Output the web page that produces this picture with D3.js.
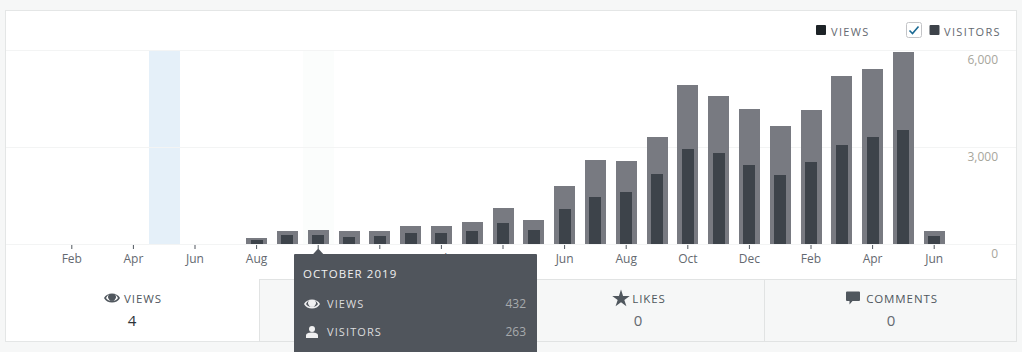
<!DOCTYPE html>
<html lang="en">
<head>
    <meta charset="UTF-8">
    <title>Stats</title>
    <script src="https://d3js.org/d3.v7.min.js"></script>
    <style>
        html, body {
            margin: 0;
            padding: 0;
            background-color: #f6f7f7;
            overflow: hidden;
        }

        svg {
            display: block;
            font-family: 'Open Sans', sans-serif;
        }
    </style>
</head>
<body>
<svg id="chart" width="1022" height="352"></svg>

<script>
    const months = ['Jan 2019', 'Feb 2019', 'Mar 2019', 'Apr 2019', 'May 2019', 'Jun 2019', 'Jul 2019', 'Aug 2019',
        'Sep 2019', 'Oct 2019', 'Nov 2019', 'Dec 2019', 'Jan 2020', 'Feb 2020', 'Mar 2020', 'Apr 2020', 'May 2020',
        'Jun 2020', 'Jul 2020', 'Aug 2020', 'Sep 2020', 'Oct 2020', 'Nov 2020', 'Dec 2020', 'Jan 2021', 'Feb 2021',
        'Mar 2021', 'Apr 2021', 'May 2021', 'Jun 2021'];
    const views = [0, 0, 0, 0, 4, 0, 0, 186, 402, 432, 400, 400, 546, 546, 670, 1113, 752, 1804, 2588, 2557, 3309,
        4927, 4567, 4175, 3639, 4144, 5196, 5412, 5928, 402];
    const visitors = [0, 0, 0, 0, 1, 0, 0, 113, 268, 263, 216, 247, 330, 330, 402, 660, 423, 1082, 1443, 1618, 2165,
        2938, 2825, 2433, 2134, 2526, 3062, 3309, 3515, 237];
    const yTicks = [0, 3000, 6000];
    const tabs = [
        { label: 'VIEWS', value: '4', icon: 'eye', cx: 132, iconDx: -20, labelDx: 11 },
        { label: 'LIKES', value: '0', icon: 'star', cx: 638, iconDx: -17, labelDx: 11 },
        { label: 'COMMENTS', value: '0', icon: 'comment', cx: 891, iconDx: -38, labelDx: 11 }
    ];
    const selectedMonth = 'May 2019';
    const hoverMonth = 'Oct 2019';

    const svg = d3.select('#chart');
    const chartTop = 50;
    const baseline = 244;

    const x = d3.scaleBand().domain(months).range([25.6, 949.6]);
    const y = d3.scaleLinear().domain([0, 6000]).range([baseline, chartTop]);
    const barTop = v => Math.round(y(v));
    const center = m => x(m) + x.bandwidth() / 2;

    // Icons, drawn around 0,0
    function drawIcon(g, name, color, hole) {
        if (name === 'eye') {
            g.append('path')
                .attr('d', 'M-8,0 C-5,-6 5,-6 8,0 C5,6 -5,6 -8,0 Z')
                .attr('fill', color);
            g.append('path')
                .attr('d', 'M-6,0 C-4,-3 -3,-3.6 -2.6,-3.7 A3.8,3.8 0 1,0 2.6,-3.7 C3,-3.6 4,-3 6,0 C4,3.8 -4,3.8 -6,0 Z')
                .attr('fill', hole);
            g.append('circle').attr('r', 2.6).attr('fill', color);
        } else if (name === 'person') {
            g.append('circle').attr('cy', -3).attr('r', 3).attr('fill', color);
            g.append('path')
                .attr('d', 'M-6,6 L-6,3.5 C-6,1.2 -3,0.5 0,0.5 C3,0.5 6,1.2 6,3.5 L6,6 Z')
                .attr('fill', color);
        } else if (name === 'star') {
            g.append('path')
                .attr('d', d3.symbol(d3.symbolStar, 95)())
                .attr('transform', 'translate(0,0.8)')
                .attr('fill', color);
        } else if (name === 'comment') {
            g.append('path')
                .attr('d', 'M-6,-6.5 L6,-6.5 Q7,-6.5 7,-5.5 L7,2 Q7,3 6,3 L-0.5,3 L-3.5,6.5 L-3.5,3 L-6,3 Q-7,3 -7,2 L-7,-5.5 Q-7,-6.5 -6,-6.5 Z')
                .attr('fill', color);
        }
    }

    // Panel
    svg.append('rect')
        .attr('x', 5.5).attr('y', 10.5)
        .attr('width', 1011).attr('height', 331)
        .attr('fill', '#fff')
        .attr('stroke', '#e4e6e6');

    // Tabs row
    svg.append('rect')
        .attr('x', 259.5).attr('y', 279.5)
        .attr('width', 757).attr('height', 62)
        .attr('fill', '#f6f7f7')
        .attr('stroke', '#e1e3e3');
    svg.append('line')
        .attr('x1', 764.5).attr('x2', 764.5)
        .attr('y1', 280).attr('y2', 341)
        .attr('stroke', '#e1e3e3');

    // Highlighted months
    svg.append('rect')
        .attr('x', Math.round(x(selectedMonth))).attr('y', chartTop)
        .attr('width', 31).attr('height', baseline - chartTop)
        .attr('fill', '#e5f0f9');
    svg.append('rect')
        .attr('x', Math.round(x(hoverMonth))).attr('y', chartTop)
        .attr('width', 31).attr('height', baseline - chartTop)
        .attr('fill', '#fbfdfc');

    // Grid
    svg.append('g').selectAll('line')
        .data(yTicks)
        .join('line')
        .attr('x1', 6).attr('x2', 1016)
        .attr('y1', d => Math.round(y(d)) + 0.5)
        .attr('y2', d => Math.round(y(d)) + 0.5)
        .attr('stroke', '#f3f4f4');

    // Bars
    const slots = svg.append('g').selectAll('g')
        .data(months.map((m, i) => ({ month: m, views: views[i], visitors: visitors[i] })))
        .join('g');

    slots.append('rect')
        .attr('x', d => Math.round(center(d.month) - 10.5))
        .attr('y', d => barTop(d.views))
        .attr('width', 21)
        .attr('height', d => baseline - barTop(d.views))
        .attr('fill', '#787a81');

    slots.append('rect')
        .attr('x', d => Math.round(center(d.month) - 6))
        .attr('y', d => barTop(d.visitors))
        .attr('width', 12)
        .attr('height', d => baseline - barTop(d.visitors))
        .attr('fill', '#3d434a');

    // X axis, every second month
    const xAxis = d3.axisBottom(x)
        .tickValues(months.filter((m, i) => i % 2 === 1))
        .tickSize(4)
        .tickSizeOuter(0)
        .tickFormat(d => d.split(' ')[0]);

    const xg = svg.append('g')
        .attr('transform', `translate(0,${baseline + 1})`)
        .call(xAxis);
    xg.select('.domain').remove();
    xg.selectAll('line').attr('stroke', '#50575e');
    xg.selectAll('text')
        .attr('y', 9)
        .attr('fill', '#646970')
        .style('font-size', '12px')
        .style('font-family', "'Open Sans', sans-serif");

    // Y axis
    const yg = svg.append('g')
        .attr('transform', 'translate(998,0)')
        .call(d3.axisLeft(y).tickValues(yTicks).tickSize(0).tickPadding(0).tickFormat(d3.format(',')));
    yg.select('.domain').remove();
    yg.selectAll('text')
        .attr('dy', 13.5)
        .attr('fill', '#a7a69c')
        .style('font-size', '12px')
        .style('font-family', "'Open Sans', sans-serif");

    // Legend
    const legend = svg.append('g').style('font-size', '11px').style('letter-spacing', '1.35px').attr('fill', '#646970');
    legend.append('rect').attr('x', 816).attr('y', 25).attr('width', 10).attr('height', 10).attr('rx', 1).attr('fill', '#1d2327');
    legend.append('text').attr('x', 831).attr('y', 36).text('VIEWS');
    legend.append('rect').attr('x', 906.5).attr('y', 22.5).attr('width', 15).attr('height', 15).attr('rx', 2)
        .attr('fill', '#fff').attr('stroke', '#c3c4c7');
    legend.append('path').attr('d', 'M909.5,30.5 L912.5,33.5 L918.5,26.5')
        .attr('fill', 'none').attr('stroke', '#1a6a94').attr('stroke-width', 1.6);
    legend.append('rect').attr('x', 929.5).attr('y', 25).attr('width', 10).attr('height', 10).attr('rx', 1).attr('fill', '#3d434a');
    legend.append('text').attr('x', 944).attr('y', 36).text('VISITORS');

    // Tabs content
    tabs.forEach(t => {
        const g = svg.append('g').attr('transform', `translate(${t.cx},0)`);
        g.append('text')
            .attr('x', t.labelDx)
            .attr('y', 302.5)
            .attr('text-anchor', 'middle')
            .attr('fill', '#50575e')
            .style('font-size', '11.5px')
            .style('letter-spacing', '0.9px')
            .text(t.label);
        const icon = g.append('g').attr('transform', `translate(${t.iconDx},298)`);
        drawIcon(icon, t.icon, '#50575e', t.icon === 'eye' ? '#fff' : 'none');
        g.append('text')
            .attr('y', 326)
            .attr('text-anchor', 'middle')
            .attr('fill', t.label === 'VIEWS' ? '#2c3338' : '#646970')
            .style('font-size', '15px')
            .text(t.value);
    });

    // Tooltip for the hovered month
    const tipIndex = months.indexOf(hoverMonth);
    const tipX = center(hoverMonth);
    const tip = svg.append('g');
    tip.append('path')
        .attr('d', `M${tipX - 5},254 L${tipX},248.5 L${tipX + 5},254 Z`)
        .attr('fill', '#50555c');
    tip.append('rect')
        .attr('x', 294).attr('y', 254)
        .attr('width', 243).attr('height', 110)
        .attr('rx', 1)
        .attr('fill', '#50555c');
    tip.append('text')
        .attr('x', 303).attr('y', 278)
        .attr('fill', '#f0f0f1')
        .style('font-size', '11.5px')
        .style('letter-spacing', '1.05px')
        .text('OCTOBER 2019');

    const tipRows = [
        { label: 'VIEWS', value: views[tipIndex], icon: 'eye', rowY: 308 },
        { label: 'VISITORS', value: visitors[tipIndex], icon: 'person', rowY: 336 }
    ];
    tipRows.forEach(r => {
        const icon = tip.append('g').attr('transform', `translate(312,${r.rowY - 4})`);
        drawIcon(icon, r.icon, '#f0f0f1', '#50555c');
        tip.append('text')
            .attr('x', 327).attr('y', r.rowY)
            .attr('fill', '#dcdcde')
            .style('font-size', '11px')
            .style('letter-spacing', '1.1px')
            .text(r.label);
        tip.append('text')
            .attr('x', 526).attr('y', r.rowY)
            .attr('text-anchor', 'end')
            .attr('fill', '#a7aaad')
            .style('font-size', '12px')
            .text(r.value);
    });
</script>
</body>
</html>
